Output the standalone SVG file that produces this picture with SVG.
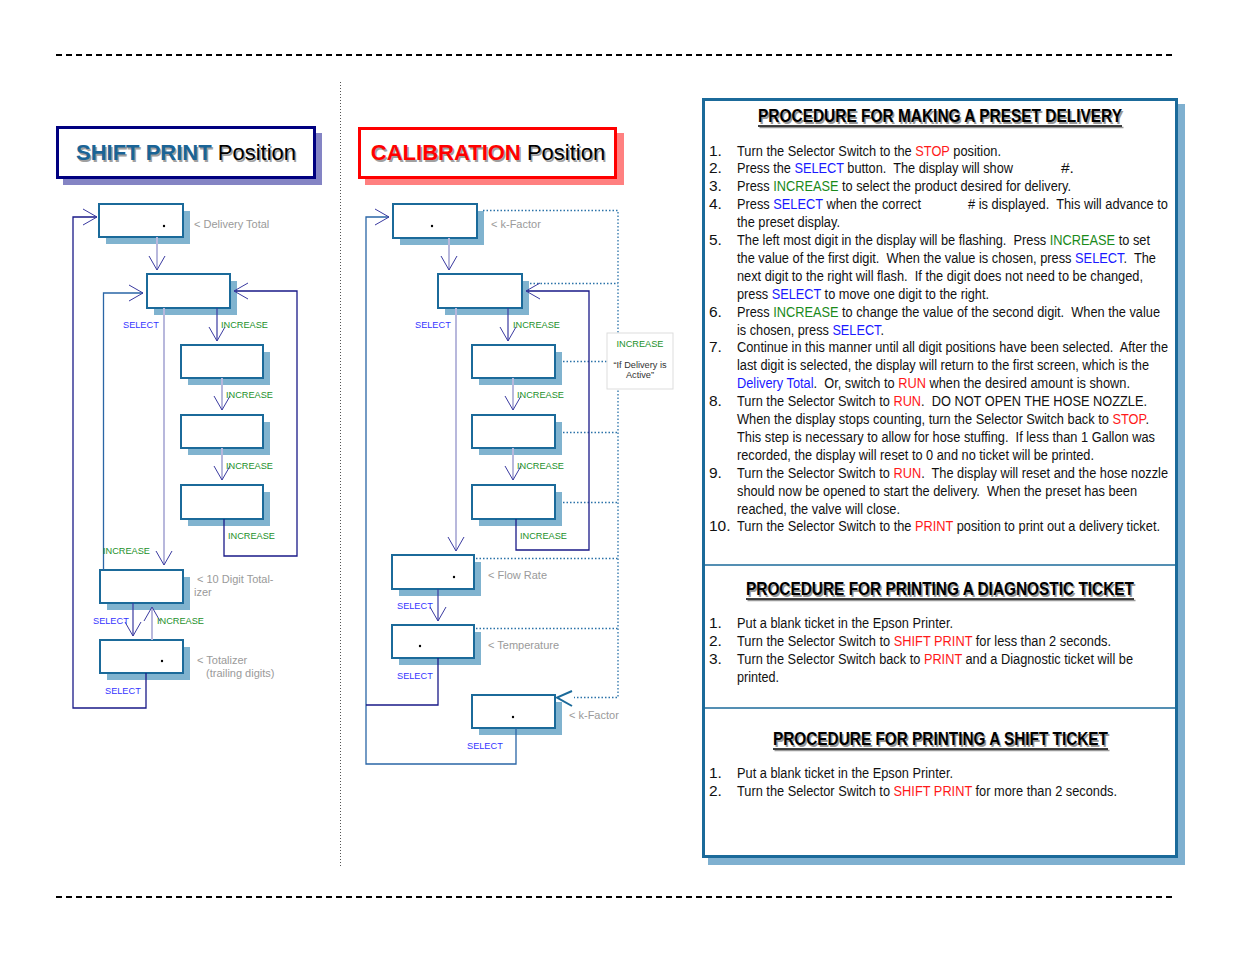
<svg xmlns="http://www.w3.org/2000/svg" width="1235" height="954" viewBox="0 0 1235 954">
<style>
text{font-family:"Liberation Sans",Arial,sans-serif}
rect.s{fill:#80B3CF}
rect.f{fill:#fff;stroke:#1B6A9A;stroke-width:2}
.gl{font-size:11px;fill:#9A9A9A}
.sel{font-size:9.2px;fill:#3535FF}
.inc{font-size:9.2px;fill:#22902A}
.nav{fill:none;stroke:#1A1A88;stroke-width:1.3}
.lav{fill:none;stroke:#B8B8DC;stroke-width:2}
.thin{fill:none;stroke:#3A3AA0;stroke-width:1.2}
.dtl{fill:none;stroke:#2A72A8;stroke-width:1.3;stroke-dasharray:1.5 2}
.bt{font-size:15.5px;fill:#111}
.r{fill:#FF1A1A}.b{fill:#1A1AFF}.g{fill:#1A8A1A}
.ttl{font-size:18px;font-weight:bold}
.dash{stroke:#000;stroke-width:2;stroke-dasharray:6 4}
</style>
<defs>
<marker id="v" markerUnits="userSpaceOnUse" markerWidth="18" markerHeight="20" viewBox="0 0 18 20" refX="15" refY="10" orient="auto"><path d="M1,2 L15,10 L1,18" fill="none" stroke="#3A3AA0" stroke-width="1"/></marker>
</defs>
<rect width="1235" height="954" fill="#fff"/>
<line class="dash" x1="56" y1="55" x2="1176" y2="55"/>
<line class="dash" x1="56" y1="897" x2="1176" y2="897"/>
<line x1="340.5" y1="82" x2="340.5" y2="868" stroke="#555" stroke-width="1" stroke-dasharray="1 2"/>

<g id="title-shift">
<rect x="63" y="133" width="259" height="52" fill="#8484C4"/>
<rect x="57.5" y="127.5" width="257" height="50" fill="#fff" stroke="#000080" stroke-width="3"/>
<text x="187.5" y="161.5" text-anchor="middle" font-size="22" fill="#A0A0A0"><tspan font-weight="bold">SHIFT PRINT</tspan> Position</text>
<text x="186" y="160" text-anchor="middle" font-size="22" fill="#000"><tspan font-weight="bold" fill="#1A6496">SHIFT PRINT</tspan> Position</text>
</g>
<g id="title-cal">
<rect x="365" y="133" width="259" height="52" fill="#FF8080"/>
<rect x="359.5" y="128.5" width="256" height="49" fill="#fff" stroke="#FF0000" stroke-width="3"/>
<text x="489.5" y="161.5" text-anchor="middle" font-size="22" fill="#A0A0A0"><tspan font-weight="bold">CALIBRATION</tspan> Position</text>
<text x="488" y="160" text-anchor="middle" font-size="22" fill="#000"><tspan font-weight="bold" fill="#FF0000">CALIBRATION</tspan> Position</text>
</g>

<!-- left nodes -->
<g id="a1"><rect class="s" x="106" y="211" width="84" height="33"/><rect class="f" x="99" y="204" width="84" height="33"/><circle cx="164" cy="226" r="1.2"/></g>
<g id="a2"><rect class="s" x="154" y="281" width="83" height="34"/><rect class="f" x="147" y="274" width="83" height="34"/></g>
<g id="a3"><rect class="s" x="188" y="352" width="82" height="33"/><rect class="f" x="181" y="345" width="82" height="33"/></g>
<g id="a4"><rect class="s" x="188" y="422" width="82" height="33"/><rect class="f" x="181" y="415" width="82" height="33"/></g>
<g id="a5"><rect class="s" x="188" y="492" width="82" height="34"/><rect class="f" x="181" y="485" width="82" height="34"/></g>
<g id="a6"><rect class="s" x="107" y="577" width="83" height="33"/><rect class="f" x="100" y="570" width="83" height="33"/></g>
<g id="a7"><rect class="s" x="107" y="647" width="83" height="33"/><rect class="f" x="100" y="640" width="83" height="33"/><circle cx="162" cy="661" r="1.2"/></g>

<!-- middle nodes -->
<g id="b1"><rect class="s" x="400" y="211" width="84" height="34"/><rect class="f" x="393" y="204" width="84" height="34"/><circle cx="432" cy="226" r="1.2"/></g>
<g id="b2"><rect class="s" x="445" y="281" width="84" height="34"/><rect class="f" x="438" y="274" width="84" height="34"/></g>
<g id="b3"><rect class="s" x="479" y="352" width="83" height="33"/><rect class="f" x="472" y="345" width="83" height="33"/></g>
<g id="b4"><rect class="s" x="479" y="422" width="83" height="33"/><rect class="f" x="472" y="415" width="83" height="33"/></g>
<g id="b5"><rect class="s" x="479" y="492" width="83" height="34"/><rect class="f" x="472" y="485" width="83" height="34"/></g>
<g id="b6"><rect class="s" x="399" y="562" width="82" height="34"/><rect class="f" x="392" y="555" width="82" height="34"/><circle cx="454" cy="577" r="1.2"/></g>
<g id="b7"><rect class="s" x="399" y="632" width="82" height="33"/><rect class="f" x="392" y="625" width="82" height="33"/><circle cx="420" cy="646" r="1.2"/></g>
<g id="b8"><rect class="s" x="479" y="702" width="83" height="33"/><rect class="f" x="472" y="695" width="83" height="33"/><circle cx="513" cy="717" r="1.2"/></g>

<g id="connectors">
<!-- left -->
<path class="nav" d="M146,673 V708 H73 V217 H97" marker-end="url(#v)"/>
<path class="lav" d="M157,237 V270" marker-end="url(#v)"/>
<path fill="none" stroke="#2A66A6" stroke-width="1.3" d="M103.5,570 V293 H143" marker-end="url(#v)"/>
<path class="nav" d="M224,519 V556 H297 V291 H234" marker-end="url(#v)"/>
<path class="lav" d="M164,308 V565" marker-end="url(#v)"/>
<path class="thin" d="M217,308 V341" marker-end="url(#v)"/>
<path class="lav" d="M222,378 V410" marker-end="url(#v)"/>
<path class="lav" d="M222,448 V480" marker-end="url(#v)"/>
<path class="thin" d="M133,603 V636" marker-end="url(#v)"/>
<path class="lav" d="M152,640 V607" marker-end="url(#v)"/>
<!-- middle -->
<path class="dtl" d="M483,210.5 H618 V697.5 H574"/>
<path class="dtl" d="M530,283.5 H618"/>
<path class="dtl" d="M563,361.5 H618"/>
<path class="dtl" d="M563,432.5 H618"/>
<path class="dtl" d="M563,502.5 H618"/>
<path class="dtl" d="M476,558.5 H618"/>
<path class="dtl" d="M476,628.5 H618"/>
<path d="M572,691 L557,697.5 L572,706" fill="none" stroke="#1B6A9A" stroke-width="2"/>
<path fill="none" stroke="#2A66A6" stroke-width="1.3" d="M516,728 V764 H366 V217 H389" marker-end="url(#v)"/>
<path class="nav" d="M438,658 V705 H366"/>
<path class="lav" d="M449,238 V270" marker-end="url(#v)"/>
<path class="nav" d="M516,519 V550 H589 V291 H526" marker-end="url(#v)"/>
<path class="lav" d="M456,308 V551" marker-end="url(#v)"/>
<path class="thin" d="M508,308 V341" marker-end="url(#v)"/>
<path class="lav" d="M513,378 V410" marker-end="url(#v)"/>
<path class="lav" d="M513,448 V480" marker-end="url(#v)"/>
<path class="thin" d="M438,589 V621" marker-end="url(#v)"/>
</g>

<g id="note">
<rect x="607" y="333" width="66" height="56" fill="#fff" stroke="#DDDDDD" stroke-width="1"/>
<text class="inc" x="640" y="346.5" text-anchor="middle">INCREASE</text>
<text x="640" y="368" text-anchor="middle" font-size="9.2" fill="#333">“If Delivery is</text>
<text x="640" y="378" text-anchor="middle" font-size="9.2" fill="#333">Active”</text>
</g>

<g id="labels">
<text class="gl" x="194" y="228">&lt; Delivery Total</text>
<text class="gl" x="197" y="583">&lt; 10 Digit Total-</text>
<text class="gl" x="194" y="596">izer</text>
<text class="gl" x="197" y="664">&lt; Totalizer</text>
<text class="gl" x="206" y="677">(trailing digits)</text>
<text class="sel" x="123" y="328">SELECT</text>
<text class="inc" x="221" y="328">INCREASE</text>
<text class="inc" x="226" y="398">INCREASE</text>
<text class="inc" x="226" y="469">INCREASE</text>
<text class="inc" x="228" y="539">INCREASE</text>
<text class="inc" x="103" y="554">INCREASE</text>
<text class="sel" x="93" y="624">SELECT</text>
<text class="inc" x="157" y="624">INCREASE</text>
<text class="sel" x="105" y="694">SELECT</text>

<text class="gl" x="491" y="228">&lt; k-Factor</text>
<text class="gl" x="488" y="579">&lt; Flow Rate</text>
<text class="gl" x="488" y="649">&lt; Temperature</text>
<text class="gl" x="569" y="719">&lt; k-Factor</text>
<text class="sel" x="415" y="328">SELECT</text>
<text class="inc" x="513" y="328">INCREASE</text>
<text class="inc" x="517" y="398">INCREASE</text>
<text class="inc" x="517" y="469">INCREASE</text>
<text class="inc" x="520" y="539">INCREASE</text>
<text class="sel" x="397" y="609">SELECT</text>
<text class="sel" x="397" y="679">SELECT</text>
<text class="sel" x="467" y="749">SELECT</text>
</g>

<g id="panel">
<rect x="708" y="104" width="477" height="761" fill="#7FB0D0"/>
<rect x="703.5" y="99.5" width="473" height="757" fill="#fff" stroke="#1B6A9A" stroke-width="3"/>
<line x1="703" y1="565" x2="1177" y2="565" stroke="#1B6A9A" stroke-width="1.5"/>
<line x1="703" y1="708" x2="1177" y2="708" stroke="#1B6A9A" stroke-width="1.5"/>

<text class="ttl" x="759.5" y="123.5" textLength="364" lengthAdjust="spacingAndGlyphs" fill="#999">PROCEDURE FOR MAKING A PRESET DELIVERY</text>
<line x1="759.5" y1="127.5" x2="1123.5" y2="127.5" stroke="#999" stroke-width="1.5"/>
<text class="ttl" x="758" y="122" textLength="364" lengthAdjust="spacingAndGlyphs" fill="#000">PROCEDURE FOR MAKING A PRESET DELIVERY</text>
<line x1="758" y1="126" x2="1122" y2="126" stroke="#000" stroke-width="1.5"/>

<g class="bt">
<text x="709" y="155.5">1.</text>
<text x="737" y="155.5" textLength="264" lengthAdjust="spacingAndGlyphs" xml:space="preserve">Turn the Selector Switch to the <tspan class="r">STOP</tspan> position.</text>
<text x="709" y="173.4">2.</text>
<text x="737" y="173.4" textLength="276" lengthAdjust="spacingAndGlyphs" xml:space="preserve">Press the <tspan class="b">SELECT</tspan> button.  The display will show</text>
<text x="1061" y="173.4">#.</text>
<text x="709" y="191.3">3.</text>
<text x="737" y="191.3" textLength="334" lengthAdjust="spacingAndGlyphs" xml:space="preserve">Press <tspan class="g">INCREASE</tspan> to select the product desired for delivery.</text>
<text x="709" y="209.2">4.</text>
<text x="737" y="209.2" textLength="184" lengthAdjust="spacingAndGlyphs" xml:space="preserve">Press <tspan class="b">SELECT</tspan> when the correct</text>
<text x="968" y="209.2" textLength="200" lengthAdjust="spacingAndGlyphs" xml:space="preserve"># is displayed.  This will advance to</text>
<text x="737" y="227.1" textLength="103" lengthAdjust="spacingAndGlyphs">the preset display.</text>
<text x="709" y="245">5.</text>
<text x="737" y="245" textLength="413" lengthAdjust="spacingAndGlyphs" xml:space="preserve">The left most digit in the display will be flashing.  Press <tspan class="g">INCREASE</tspan> to set</text>
<text x="737" y="262.9" textLength="419" lengthAdjust="spacingAndGlyphs" xml:space="preserve">the value of the first digit.  When the value is chosen, press <tspan class="b">SELECT</tspan>.  The</text>
<text x="737" y="280.8" textLength="406" lengthAdjust="spacingAndGlyphs" xml:space="preserve">next digit to the right will flash.  If the digit does not need to be changed,</text>
<text x="737" y="298.7" textLength="252" lengthAdjust="spacingAndGlyphs" xml:space="preserve">press <tspan class="b">SELECT</tspan> to move one digit to the right.</text>
<text x="709" y="316.6">6.</text>
<text x="737" y="316.6" textLength="423" lengthAdjust="spacingAndGlyphs" xml:space="preserve">Press <tspan class="g">INCREASE</tspan> to change the value of the second digit.  When the value</text>
<text x="737" y="334.5" textLength="147" lengthAdjust="spacingAndGlyphs" xml:space="preserve">is chosen, press <tspan class="b">SELECT</tspan>.</text>
<text x="709" y="352.4">7.</text>
<text x="737" y="352.4" textLength="431" lengthAdjust="spacingAndGlyphs" xml:space="preserve">Continue in this manner until all digit positions have been selected.  After the</text>
<text x="737" y="370.3" textLength="412" lengthAdjust="spacingAndGlyphs" xml:space="preserve">last digit is selected, the display will return to the first screen, which is the</text>
<text x="737" y="388.2" textLength="393" lengthAdjust="spacingAndGlyphs" xml:space="preserve"><tspan class="b">Delivery Total</tspan>.  Or, switch to <tspan class="r">RUN</tspan> when the desired amount is shown.</text>
<text x="709" y="406.1">8.</text>
<text x="737" y="406.1" textLength="410" lengthAdjust="spacingAndGlyphs" xml:space="preserve">Turn the Selector Switch to <tspan class="r">RUN</tspan>.  DO NOT OPEN THE HOSE NOZZLE.</text>
<text x="737" y="424" textLength="412" lengthAdjust="spacingAndGlyphs" xml:space="preserve">When the display stops counting, turn the Selector Switch back to <tspan class="r">STOP</tspan>.</text>
<text x="737" y="441.9" textLength="418" lengthAdjust="spacingAndGlyphs" xml:space="preserve">This step is necessary to allow for hose stuffing.  If less than 1 Gallon was</text>
<text x="737" y="459.8" textLength="357" lengthAdjust="spacingAndGlyphs" xml:space="preserve">recorded, the display will reset to 0 and no ticket will be printed.</text>
<text x="709" y="477.7">9.</text>
<text x="737" y="477.7" textLength="431" lengthAdjust="spacingAndGlyphs" xml:space="preserve">Turn the Selector Switch to <tspan class="r">RUN</tspan>.  The display will reset and the hose nozzle</text>
<text x="737" y="495.6" textLength="400" lengthAdjust="spacingAndGlyphs" xml:space="preserve">should now be opened to start the delivery.  When the preset has been</text>
<text x="737" y="513.5" textLength="163" lengthAdjust="spacingAndGlyphs" xml:space="preserve">reached, the valve will close.</text>
<text x="709" y="531.4">10.</text>
<text x="737" y="531.4" textLength="423" lengthAdjust="spacingAndGlyphs" xml:space="preserve">Turn the Selector Switch to the <tspan class="r">PRINT</tspan> position to print out a delivery ticket.</text>
</g>

<text class="ttl" x="747.5" y="596.5" textLength="388" lengthAdjust="spacingAndGlyphs" fill="#999">PROCEDURE FOR PRINTING A DIAGNOSTIC TICKET</text>
<line x1="747.5" y1="600.5" x2="1135.5" y2="600.5" stroke="#999" stroke-width="1.5"/>
<text class="ttl" x="746" y="595" textLength="388" lengthAdjust="spacingAndGlyphs" fill="#000">PROCEDURE FOR PRINTING A DIAGNOSTIC TICKET</text>
<line x1="746" y1="599" x2="1134" y2="599" stroke="#000" stroke-width="1.5"/>
<g class="bt">
<text x="709" y="628">1.</text>
<text x="737" y="628" textLength="216" lengthAdjust="spacingAndGlyphs">Put a blank ticket in the Epson Printer.</text>
<text x="709" y="646">2.</text>
<text x="737" y="646" textLength="374" lengthAdjust="spacingAndGlyphs">Turn the Selector Switch to <tspan class="r">SHIFT PRINT</tspan> for less than 2 seconds.</text>
<text x="709" y="664">3.</text>
<text x="737" y="664" textLength="396" lengthAdjust="spacingAndGlyphs">Turn the Selector Switch back to <tspan class="r">PRINT</tspan> and a Diagnostic ticket will be</text>
<text x="737" y="682" textLength="42" lengthAdjust="spacingAndGlyphs">printed.</text>
</g>

<text class="ttl" x="774.5" y="746.5" textLength="335" lengthAdjust="spacingAndGlyphs" fill="#999">PROCEDURE FOR PRINTING A SHIFT TICKET</text>
<line x1="774.5" y1="750.5" x2="1109.5" y2="750.5" stroke="#999" stroke-width="1.5"/>
<text class="ttl" x="773" y="745" textLength="335" lengthAdjust="spacingAndGlyphs" fill="#000">PROCEDURE FOR PRINTING A SHIFT TICKET</text>
<line x1="773" y1="749" x2="1108" y2="749" stroke="#000" stroke-width="1.5"/>
<g class="bt">
<text x="709" y="778">1.</text>
<text x="737" y="778" textLength="216" lengthAdjust="spacingAndGlyphs">Put a blank ticket in the Epson Printer.</text>
<text x="709" y="796">2.</text>
<text x="737" y="796" textLength="380" lengthAdjust="spacingAndGlyphs">Turn the Selector Switch to <tspan class="r">SHIFT PRINT</tspan> for more than 2 seconds.</text>
</g>
</g>
</svg>
